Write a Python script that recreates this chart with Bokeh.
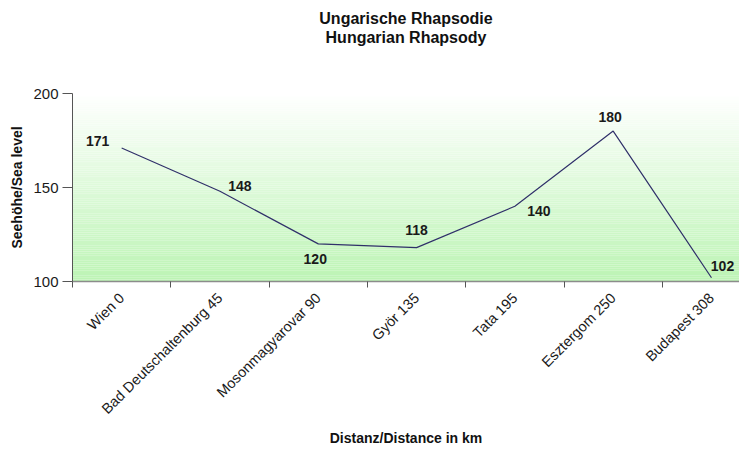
import numpy as np
from bokeh.plotting import figure
from bokeh.models import ColumnDataSource, Range1d, FixedTicker, Title
from bokeh.core.properties import value
from bokeh.embed import file_html
from bokeh.resources import INLINE

# ---- data ----
stations = ["Wien 0", "Bad Deutschaltenburg 45", "Mosonmagyarovar 90", "Györ 135",
            "Tata 195", "Esztergom 250", "Budapest 308"]
elevation = [171, 148, 120, 118, 140, 180, 102]
y_ticks = [100, 150, 200]
title_lines = ["Ungarische Rhapsodie", "Hungarian Rhapsody"]

# label placement (screen px offsets from the point, styling only)
label_dx = [-24, 20, -3, 0, 24, -3, 11]
label_dy = [-7, -5, 15, -18, 5, -14, -12]

FONT = "Liberation Sans"
n = len(stations)
xs = [i + 0.5 for i in range(n)]

p = figure(width=739, height=448, output_backend="svg", toolbar_location=None,
           x_range=Range1d(0, 6.785), y_range=Range1d(100, 200),
           min_border_left=72, min_border_right=0, min_border_top=93,
           min_border_bottom=166, title=None)
p.outline_line_color = None
p.background_fill_color = "white"
p.border_fill_color = "white"

# gradient background of plot area (white top -> light green bottom)
nstrip = 100
edges = np.linspace(100, 200, nstrip + 1)
top_rgb = np.array([255, 255, 255])
bot_rgb = np.array([188, 244, 180])
cols = []
for i in range(nstrip):
    t = (edges[i] + edges[i + 1]) / 2
    f = (t - 100) / 100.0
    c = bot_rgb + (top_rgb - bot_rgb) * f
    cols.append("#%02x%02x%02x" % tuple(int(round(v)) for v in c))
p.quad(left=0, right=n, bottom=edges[:-1], top=edges[1:], fill_color=cols,
       line_color=None)

# grid
p.xgrid.visible = False
p.ygrid.ticker = FixedTicker(ticks=[200])
p.ygrid.grid_line_color = "#8c8c8c"
p.ygrid.grid_line_width = 1.5
p.ygrid.level = "overlay"

src = ColumnDataSource(dict(x=xs, y=elevation, lab=[str(v) for v in elevation],
                            dx=label_dx, dy=label_dy))
p.line("x", "y", source=src, line_color="#30306a", line_width=1.2)
p.text("x", "y", text="lab", source=src, x_offset="dx", y_offset="dy",
       text_align="center", text_baseline="middle",
       text_font=value(FONT), text_font_style="bold", text_font_size="14px",
       text_color="#1a1a1a")

# x axis
xa = p.xaxis[0]
xa.ticker = FixedTicker(ticks=xs, minor_ticks=list(range(n + 1)))
xa.major_label_overrides = {x: s for x, s in zip(xs, stations)}
xa.major_label_orientation = np.pi / 4
xa.major_tick_line_color = None
xa.major_tick_out = 6
xa.major_tick_in = 0
xa.minor_tick_out = 6
xa.minor_tick_in = 0
xa.minor_tick_line_color = "#555555"
xa.axis_line_color = "#8c8c8c"
xa.axis_line_width = 1.5
xa.major_label_text_font = FONT
xa.major_label_text_font_size = "14.5px"
xa.major_label_text_color = "#1a1a1a"
xa.major_label_standoff = 8
xa.axis_label = "Distanz/Distance in km"
xa.axis_label_text_font = FONT
xa.axis_label_text_font_style = "bold"
xa.axis_label_text_font_size = "14px"
xa.axis_label_text_color = "#111111"
xa.axis_label_standoff = 4

# y axis
ya = p.yaxis[0]
ya.ticker = FixedTicker(ticks=y_ticks)
ya.minor_tick_line_color = None
ya.major_tick_out = 10
ya.major_tick_in = 0
ya.major_tick_line_color = "#555555"
ya.axis_line_color = "#555555"
ya.major_label_standoff = 4
ya.major_label_text_font = FONT
ya.major_label_text_font_size = "15px"
ya.major_label_text_color = "#1a1a1a"
ya.axis_label = "Seehöhe/Sea level"
ya.axis_label_text_font = FONT
ya.axis_label_text_font_style = "bold"
ya.axis_label_text_font_size = "14px"
ya.axis_label_text_color = "#111111"
ya.axis_label_standoff = 5

# spacer nearest the plot, then the two centred title lines
p.add_layout(Title(text=" ", text_font_size="1px", standoff=45), "above")
for line in reversed(title_lines):
    t = Title(text=line, align="center", text_font=FONT, text_font_style="bold",
              text_font_size="16px", text_color="#111111", standoff=0)
    p.add_layout(t, "above")

open("out.html", "w").write(file_html(p, INLINE))
